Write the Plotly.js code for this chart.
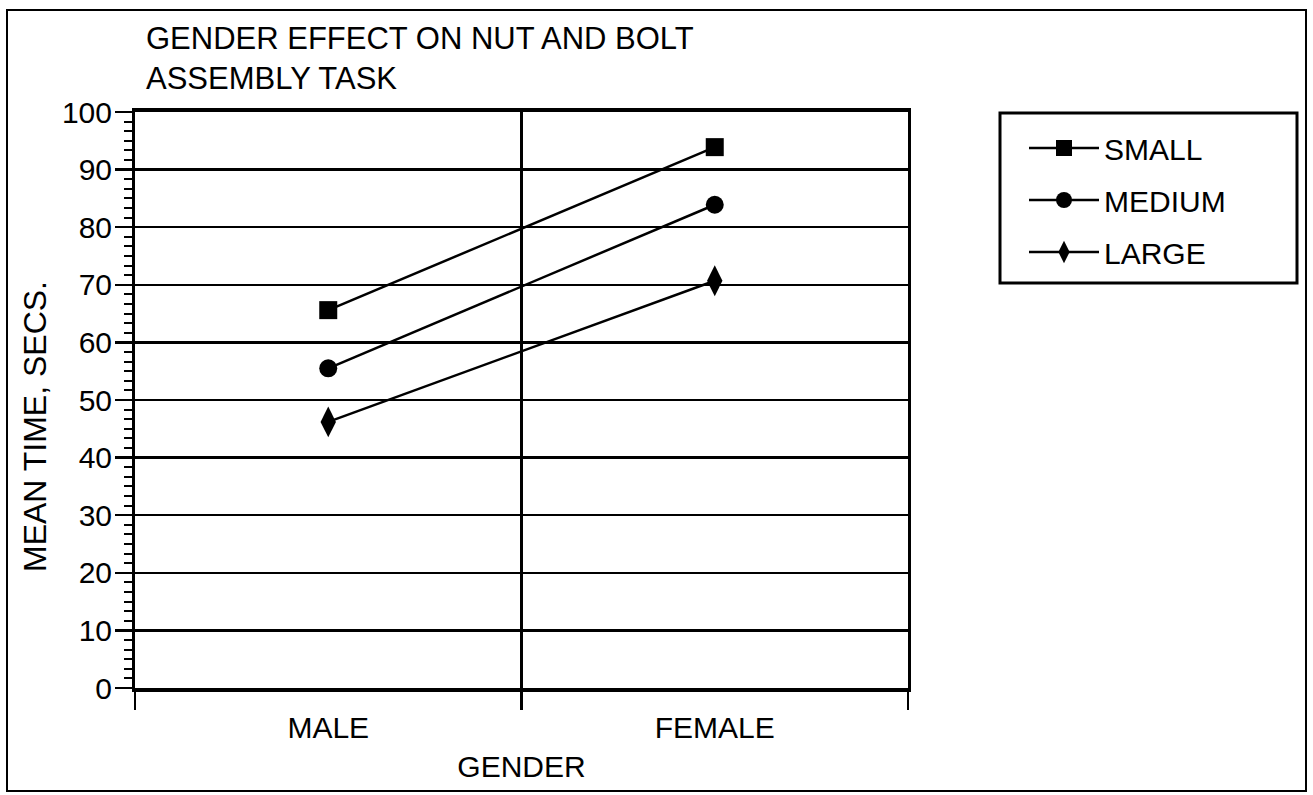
<!DOCTYPE html>
<html>
<head>
<meta charset="utf-8">
<script src="https://cdn.plot.ly/plotly-3.0.1.min.js"></script>
<style>html,body{margin:0;padding:0;background:#fff;}#chart{width:1313px;height:795px;}</style>
</head>
<body>
<div id="chart"></div>
<script>
const categories = ['MALE', 'FEMALE'];
const seriesNames = ['SMALL', 'MEDIUM', 'LARGE'];
const smallValues = [65.6, 93.9];
const mediumValues = [55.5, 83.9];
const largeValues = [46.2, 70.7];
const yTickValues = [0, 10, 20, 30, 40, 50, 60, 70, 80, 90, 100];

const FONT = 'Liberation Sans, Arial, Helvetica, sans-serif';
const symbols = ['square', 'circle', 'diamond-tall'];
const sizes = [18, 18, 22];
const values = [smallValues, mediumValues, largeValues];

const traces = seriesNames.map((name, i) => ({
  type: 'scatter',
  mode: 'lines+markers',
  name: name,
  legendgroup: name,
  x: categories,
  y: values[i],
  line: {color: '#000', width: 2.5},
  marker: {symbol: symbols[i], size: sizes[i], color: '#000', line: {width: 0}}
}));

const px = v => (v - 135) / 773;
const py = v => (688 - v) / 576;

const layout = {
  width: 1313,
  height: 795,
  paper_bgcolor: '#fff',
  plot_bgcolor: '#fff',
  margin: {l: 135, r: 405, t: 112, b: 107},
  font: {family: FONT, color: '#000', size: 29},
  title: {
    text: 'GENDER EFFECT ON NUT AND BOLT<br>ASSEMBLY TASK',
    x: 146 / 1313, xref: 'container', xanchor: 'left',
    y: 1 - 49 / 795, yref: 'container', yanchor: 'top',
    font: {family: FONT, size: 31, color: '#000'}
  },
  xaxis: {
    type: 'category',
    categoryorder: 'array',
    categoryarray: categories,
    range: [-0.5, 1.5],
    tickson: 'boundaries',
    ticks: 'outside', ticklen: 18, tickwidth: 2.5, tickcolor: '#000',
    ticklabelstandoff: 10,
    showgrid: true, gridcolor: '#000', gridwidth: 2.5,
    showline: true, linecolor: '#000', linewidth: 4, mirror: true,
    zeroline: false,
    tickfont: {family: FONT, size: 30, color: '#000'},
    title: {text: 'GENDER', font: {family: FONT, size: 30, color: '#000'}, standoff: 14},
    fixedrange: true
  },
  yaxis: {
    range: [0, 100],
    tickvals: yTickValues,
    ticks: 'outside', ticklen: 17, tickwidth: 2.5, tickcolor: '#000',
    ticklabelstandoff: -3,
    showgrid: true, gridcolor: '#000', gridwidth: 2.5,
    showline: true, linecolor: '#000', linewidth: 3, mirror: true,
    zeroline: false,
    minor: {dtick: 10 / 6, ticks: 'outside', ticklen: 8, tickwidth: 2, tickcolor: '#000', showgrid: false},
    tickfont: {family: FONT, size: 30, color: '#000'},
    fixedrange: true
  },
  showlegend: true,
  legend: {
    x: px(1024), xanchor: 'left',
    y: py(122), yanchor: 'top',
    borderwidth: 0,
    bgcolor: 'rgba(0,0,0,0)',
    font: {family: FONT, size: 30, color: '#000'},
    itemwidth: 70,
    tracegroupgap: 10
  },
  annotations: [{
    text: 'MEAN TIME, SECS.',
    textangle: -90,
    xref: 'paper', yref: 'paper',
    x: px(35), y: py(427),
    xanchor: 'center', yanchor: 'middle',
    showarrow: false,
    font: {family: FONT, size: 32, color: '#000'}
  }],
  shapes: [{
    type: 'rect', xref: 'paper', yref: 'paper',
    x0: px(7), x1: px(1306),
    y0: py(791), y1: py(10),
    line: {color: '#000', width: 2}, fillcolor: 'rgba(0,0,0,0)', layer: 'below'
  }, {
    type: 'rect', xref: 'paper', yref: 'paper',
    x0: px(1000), x1: px(1297),
    y0: py(283), y1: py(113),
    line: {color: '#000', width: 3}, fillcolor: 'rgba(0,0,0,0)', layer: 'below'
  }]
};

Plotly.newPlot('chart', traces, layout, {displayModeBar: false, staticPlot: true});
</script>
</body>
</html>
